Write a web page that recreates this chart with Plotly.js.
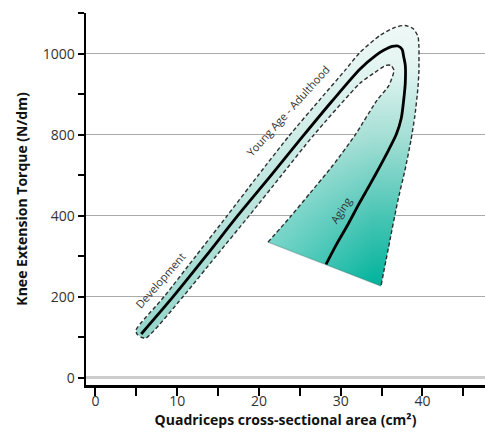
<!DOCTYPE html>
<html>
<head>
<meta charset="utf-8">
<script src="https://cdn.plot.ly/plotly-3.0.1.min.js"></script>
<style>html,body{margin:0;padding:0;background:#fff;}#chart{width:485px;height:442px;}</style>
</head>
<body>
<div id="chart"></div>
<script>
// Axis ticks (y positions are evenly spaced; the printed labels are as in the figure)
const xTickVals = [0, 10, 20, 30, 40];
const xMinorTicks = [5, 15, 25, 35, 45];
const yTickVals = [0, 200, 400, 600, 800];
const yTickText = ['0', '200', '400', '800', '1000'];
const yMinorTicks = [100, 300, 500, 700, 900];

// Central trajectory (development -> young age/adulthood -> aging)
const mainX = [5.6, 9.5, 13.5, 17.4, 21.5, 25.4, 28.9, 32.4, 34.3, 35.3, 36.3, 37.0, 37.5, 37.7, 37.9, 37.9, 37.7, 37.4, 36.8, 35.9, 34.8, 33.6, 32.2, 30.9, 29.5, 28.2];
const mainY = [108, 200, 300, 400, 500, 597, 682, 763, 796, 809, 818, 819, 811, 793, 771, 729, 685, 640, 601, 564, 522, 478, 428, 379, 330, 280];

// Band: outer (upper) edge, from the development end to the right side of the peak
const bandOuterX = [4.95, 8.38, 12.26, 16.09, 19.91, 23.67, 27.58, 30.52, 32.35, 34.80, 36.63, 37.86, 38.84, 39.45, 39.57, 39.57, 39.57];
const bandOuterY = [117.6, 199.8, 300, 399.5, 500, 596.8, 689.8, 758.8, 803.2, 845.1, 864.9, 869.8, 862.4, 842.7, 815.5, 776.1, 758.8];

// Band: inner (lower) edge, from the inner tip back down to the development end
const bandInnerX = [36.51, 36.15, 35.53, 34.19, 32.35, 26.60, 22.76, 18.78, 14.74, 10.70, 6.18, 5.57, 5.08];
const bandInnerY = [758.8, 771.1, 771.1, 753.9, 726.8, 596.8, 500, 399.5, 300, 199.8, 97.9, 100.4, 107.8];

// Aging area: right edge (top to bottom) and left edge (bottom to the inner tip)
const agingRightX = [39.57, 39.45, 39.08, 38.59, 37.86, 37.0, 36.02, 34.92];
const agingRightY = [758.8, 716.9, 647.8, 586.2, 512.2, 438.2, 339.6, 226.1];
const agingLeftX = [21.10, 23.79, 26.24, 29.05, 31.74, 34.43, 35.90, 36.51];
const agingLeftY = [334.7, 396.3, 455.5, 524.5, 598.5, 684.8, 721.8, 758.8];

const labels = ['Development', 'Young Age - Adulthood', 'Aging'];
const labelX = [7.9, 23.55, 30.0];
const labelY = [240, 660, 412];
const labelAngle = [-49, -48, -57];

const FONT = 'Open Sans, Lato, Liberation Sans, sans-serif';

// aging polygon, slightly overlapping the band at the top so no seam shows
const agingPolyX = [bandOuterX[15]].concat(agingRightX, agingLeftX, [bandInnerX[1]]);
const agingPolyY = [bandOuterY[15]].concat(agingRightY, agingLeftY, [bandInnerY[1]]);

const agingFill = {
  x: agingPolyX, y: agingPolyY,
  mode: 'lines', fill: 'toself', line: {width: 0},
  fillcolor: '#40c3b1',
  fillgradient: {type: 'vertical', start: 226, stop: 776,
    colorscale: [[0, '#00b39c'], [0.3, '#45c4b3'], [0.65, '#a0ddd3'], [1, '#e6f6f3']]},
  hoverinfo: 'skip'
};
const agingLight = {
  x: agingPolyX, y: agingPolyY,
  mode: 'lines', fill: 'toself', line: {width: 0},
  fillcolor: 'rgba(255,255,255,0.15)',
  fillgradient: {type: 'horizontal', start: 21, stop: 34,
    colorscale: [[0, 'rgba(255,255,255,0.38)'], [1, 'rgba(255,255,255,0)']]},
  hoverinfo: 'skip'
};
const bandFill = {
  x: bandOuterX.concat(bandInnerX),
  y: bandOuterY.concat(bandInnerY),
  mode: 'lines', fill: 'toself', line: {width: 0, shape: 'spline', smoothing: 0.6},
  fillcolor: '#c8ebe5',
  fillgradient: {type: 'vertical', start: 98, stop: 870,
    colorscale: [[0, '#93d5ca'], [1, '#eff9f7']]},
  hoverinfo: 'skip'
};
const bottomEdge = {
  x: [agingLeftX[0], agingRightX[agingRightX.length - 1]],
  y: [agingLeftY[0], agingRightY[agingRightY.length - 1]],
  mode: 'lines', line: {color: 'rgba(110,110,110,0.3)', width: 1.5}, hoverinfo: 'skip'
};
const outline = {
  x: agingLeftX.concat(bandInnerX.slice(1), bandOuterX, agingRightX.slice(1)),
  y: agingLeftY.concat(bandInnerY.slice(1), bandOuterY, agingRightY.slice(1)),
  mode: 'lines', line: {color: '#2e2e2e', width: 1.4, dash: '4px,2.5px', shape: 'spline', smoothing: 0.6},
  hoverinfo: 'skip'
};
const mainLine = {
  x: mainX, y: mainY, mode: 'lines',
  line: {color: '#000', width: 2.8, shape: 'spline', smoothing: 0.8}, hoverinfo: 'skip'
};

const annotations = labels.map((t, i) => ({
  x: labelX[i], y: labelY[i], xref: 'x', yref: 'y', text: t, showarrow: false,
  textangle: labelAngle[i], font: {family: FONT, size: 11, color: '#333'}
}));

const layout = {
  width: 485, height: 442,
  margin: {l: 86, r: 0, t: 13, b: 57},
  paper_bgcolor: '#fff', plot_bgcolor: '#fff',
  showlegend: false,
  font: {family: FONT, color: '#222'},
  xaxis: {
    range: [-1.16, 47.65], tickmode: 'array', tickvals: xTickVals,
    ticks: 'outside', ticklen: 8, tickwidth: 2, tickcolor: '#000', ticklabelstandoff: -6,
    showline: true, linecolor: '#000', linewidth: 2.5, showgrid: false, zeroline: false,
    tickfont: {family: FONT, size: 14, color: '#333'},
    minor: {tickmode: 'array', tickvals: xMinorTicks, ticks: 'outside', ticklen: 8, tickwidth: 2, tickcolor: '#000', showgrid: false},
    title: {text: 'Quadriceps cross-sectional area (cm²)', font: {family: FONT, size: 14, color: '#111', weight: 700}, standoff: 1}
  },
  yaxis: {
    range: [-18, 900.5], tickmode: 'array', tickvals: yTickVals, ticktext: yTickText,
    ticks: 'outside', ticklen: 6, tickwidth: 2, tickcolor: '#000',
    showline: true, linecolor: '#000', linewidth: 2.5,
    showgrid: true, gridcolor: '#aaaaaa', gridwidth: 1.5,
    zeroline: true, zerolinecolor: '#cccccc', zerolinewidth: 3,
    tickfont: {family: FONT, size: 14, color: '#333'},
    minor: {tickmode: 'array', tickvals: yMinorTicks, ticks: 'outside', ticklen: 6, tickwidth: 2, tickcolor: '#000', showgrid: false},
    title: {text: 'Knee Extension Torque (N/dm)', font: {family: FONT, size: 14, color: '#111', weight: 700}, standoff: 12}
  },
  annotations: annotations
};

Plotly.newPlot('chart', [agingFill, agingLight, bandFill, bottomEdge, outline, mainLine], layout, {displayModeBar: false, staticPlot: true});
</script>
</body>
</html>
